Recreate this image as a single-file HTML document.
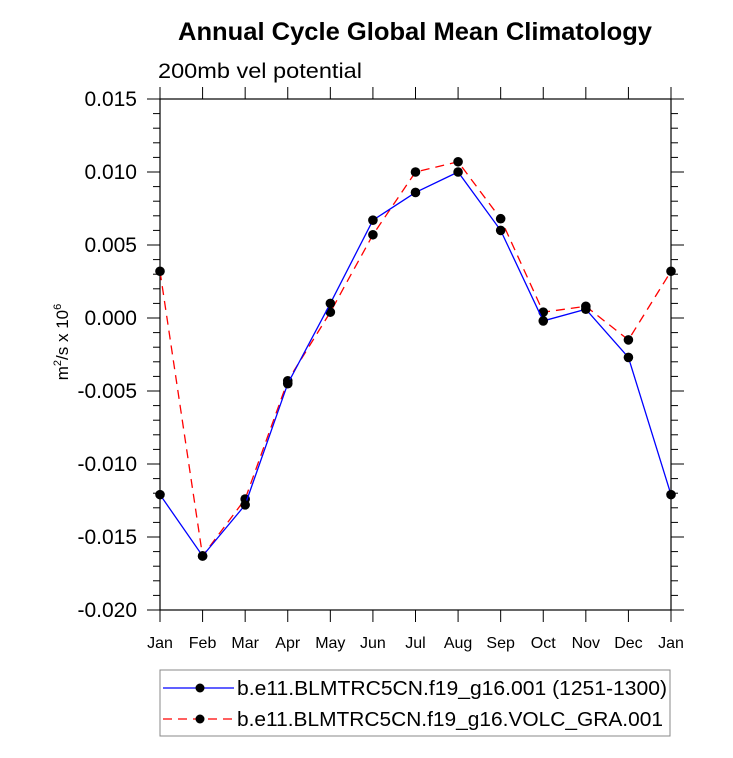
<!DOCTYPE html>
<html><head><meta charset="utf-8"><style>
html,body{margin:0;padding:0;background:#fff;}
svg{display:block;font-family:"Liberation Sans",Arial,sans-serif;}
</style></head><body>
<svg id="chart" width="733" height="758">
<text x="415" y="40" text-anchor="middle" font-size="25" font-weight="bold" textLength="474" lengthAdjust="spacingAndGlyphs">Annual Cycle Global Mean Climatology</text>
<text x="158" y="78" font-size="21" textLength="204" lengthAdjust="spacingAndGlyphs">200mb vel potential</text>
<text transform="translate(68,342) rotate(-90)" text-anchor="middle" font-size="17">m<tspan dy="-7" font-size="11">2</tspan><tspan dy="7">/s x 10</tspan><tspan dy="-7" font-size="11">6</tspan></text>
<g id="axes"></g>
<g id="series"></g>
<g>
<rect x="160" y="670" width="510" height="66" fill="none" stroke="#888" stroke-width="1"/>
<g>
<line x1="163" y1="688" x2="234" y2="688" stroke="#0000ff" stroke-width="1.3"/>
<circle cx="200" cy="688" r="4.5" fill="#000"/>
<text x="237" y="695" font-size="20" textLength="430" lengthAdjust="spacingAndGlyphs">b.e11.BLMTRC5CN.f19_g16.001 (1251-1300)</text>
</g>
<g>
<line x1="163" y1="719" x2="234" y2="719" stroke="#ff0000" stroke-width="1.3" stroke-dasharray="9,6"/>
<circle cx="200" cy="719" r="4.5" fill="#000"/>
<text x="237" y="726" font-size="20" textLength="426" lengthAdjust="spacingAndGlyphs">b.e11.BLMTRC5CN.f19_g16.VOLC_GRA.001</text>
</g>
</g>
</svg>
<script>
const months = ["Jan","Feb","Mar","Apr","May","Jun","Jul","Aug","Sep","Oct","Nov","Dec","Jan"];
const seriesControl = [-0.0121,-0.0163,-0.0128,-0.0045,0.0010,0.0067,0.0086,0.0100,0.0060,-0.0002,0.0006,-0.0027,-0.0121];
const seriesVolc = [0.0032,-0.0163,-0.0124,-0.0043,0.0004,0.0057,0.0100,0.0107,0.0068,0.0004,0.0008,-0.0015,0.0032];
const yTicks = [0.015,0.010,0.005,0.000,-0.005,-0.010,-0.015,-0.020];
const yTickLabels = ["0.015","0.010","0.005","0.000","-0.005","-0.010","-0.015","-0.020"];

const L=160,R=671,T=99,B=610,yMin=-0.020,yMax=0.015;
const NS="http://www.w3.org/2000/svg";
const xs=i=>L+i*(R-L)/(months.length-1);
const ys=v=>B-(v-yMin)/(yMax-yMin)*(B-T);
function mk(tag,attrs,parent){const e=document.createElementNS(NS,tag);for(const k in attrs)e.setAttribute(k,attrs[k]);parent.appendChild(e);return e;}
const ax=document.getElementById('axes');
const frame=mk('rect',{x:L,y:T,width:R-L,height:B-T,fill:'none',stroke:'#000','stroke-width':1.2},ax);


for(let v=-20;v<=15;v++){
  const y=ys(v/1000);const major=(v%5===0);const len=major?13:7;
  mk('line',{x1:L-len,y1:y,x2:L,y2:y,stroke:'#000','stroke-width':1},ax);
  mk('line',{x1:R,y1:y,x2:R+len,y2:y,stroke:'#000','stroke-width':1},ax);
}
yTicks.forEach((v,i)=>{
  const t=mk('text',{x:137,y:ys(v)+7,'text-anchor':'end','font-size':21},ax);
  t.textContent=yTickLabels[i];
  
  
});
months.forEach((m,i)=>{
  const x=xs(i);
  mk('line',{x1:x,y1:B,x2:x,y2:B+12,stroke:'#000','stroke-width':1},ax);
  mk('line',{x1:x,y1:T-12,x2:x,y2:T,stroke:'#000','stroke-width':1},ax);
  const t=mk('text',{x:x,y:648,'text-anchor':'middle','font-size':16},ax);
  t.textContent=m;
  
  
});
const sg=document.getElementById('series');
function draw(vals,color,dash,name){
  const g=mk('g',{},sg);
  
  
  const pts=vals.map((v,i)=>xs(i)+','+ys(v)).join(' ');
  const pl=mk('polyline',{points:pts,fill:'none',stroke:color,'stroke-width':1.3},g);
  if(dash)pl.setAttribute('stroke-dasharray',dash);
  vals.forEach((v,i)=>{
    const c=mk('circle',{cx:xs(i),cy:ys(v),r:4.8,fill:'#000'},g);
    
    
  });
}
draw(seriesVolc,'#ff0000','9,6','series-volc');
draw(seriesControl,'#0000ff',null,'series-control');
</script>
</body></html>
